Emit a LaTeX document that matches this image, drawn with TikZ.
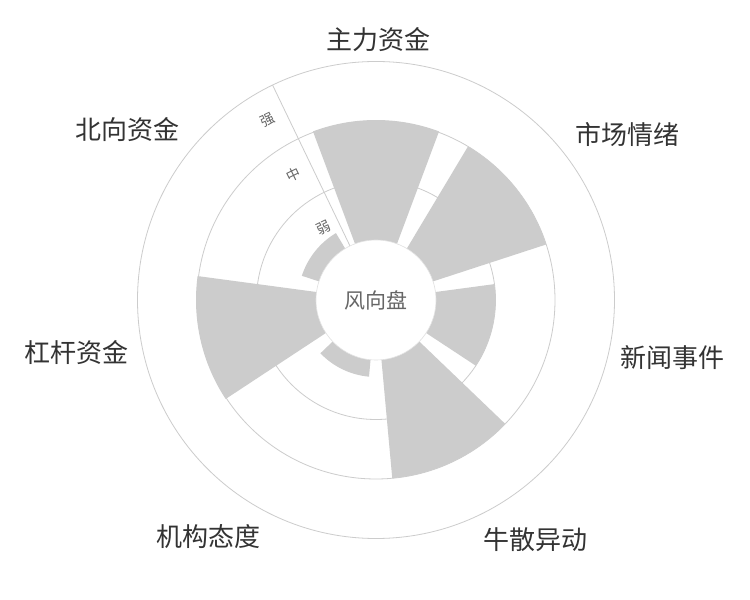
\documentclass[tikz,border=0pt]{standalone}
\usepackage{fontspec}
\newfontfamily\cjk{Noto Sans CJK SC}
\definecolor{bar}{HTML}{CCCCCC}
\definecolor{ring}{HTML}{CCCCCC}
\definecolor{lab}{HTML}{333333}
\definecolor{axl}{HTML}{666666}
\tikzset{
  catlabel/.style={font=\cjk\fontsize{26}{28}\selectfont, text=lab, inner sep=0pt},
  axlabel/.style={font=\cjk\fontsize{14}{16}\selectfont, text=axl, inner sep=0pt, rotate=26},
  ringline/.style={draw=ring, line width=0.8pt},
}
\newcommand{\polbar}[2]{%
  \fill[bar] ({#1-20.5}:60) arc[start angle={#1-20.5}, end angle={#1+20.5}, radius=60]
    -- ({#1+20.5}:#2) arc[start angle={#1+20.5}, end angle={#1-20.5}, radius=#2] -- cycle;}
\begin{document}
\begin{tikzpicture}[x=1pt,y=1pt]
\useasboundingbox (0,0) rectangle (750,600);
\fill[white] (0,0) rectangle (750,600);
\begin{scope}[shift={(376,300)}]
  \draw[ringline] (0,0) circle[radius=238.5];
  \draw[ringline] (0,0) circle[radius=179];
  \draw[ringline] (0,0) circle[radius=119.5];
  \draw[ringline] (115.7:60) -- (115.7:238.5);
  \polbar{90}{180}
  \polbar{38.57}{179}
  \polbar{-12.86}{119.5}
  \polbar{-64.29}{179}
  \polbar{-115.71}{77}
  \polbar{-167.14}{180}
  \polbar{141.43}{78}
  \node[draw=ring!60, line width=0.6pt, fill=white, circle, minimum size=120pt, inner sep=0pt] (c) at (0,0) {};
  \node[font=\cjk\fontsize{21}{23}\selectfont, text=axl] (ct) at (0,0) {风向盘};
  \node[axlabel] (w) at (126:89) {弱};
  \node[axlabel] (m) at (123.6:150) {中};
  \node[axlabel] (s) at (121:210) {强};
\end{scope}
\node[catlabel] (l1) at (378,560) {主力资金};
\node[catlabel] (l2) at (627,465) {市场情绪};
\node[catlabel] (l3) at (672,242) {新闻事件};
\node[catlabel] (l4) at (535,60) {牛散异动};
\node[catlabel] (l5) at (208,63) {机构态度};
\node[catlabel] (l6) at (76,247) {杠杆资金};
\node[catlabel] (l7) at (127,470) {北向资金};
\end{tikzpicture}
\end{document}
